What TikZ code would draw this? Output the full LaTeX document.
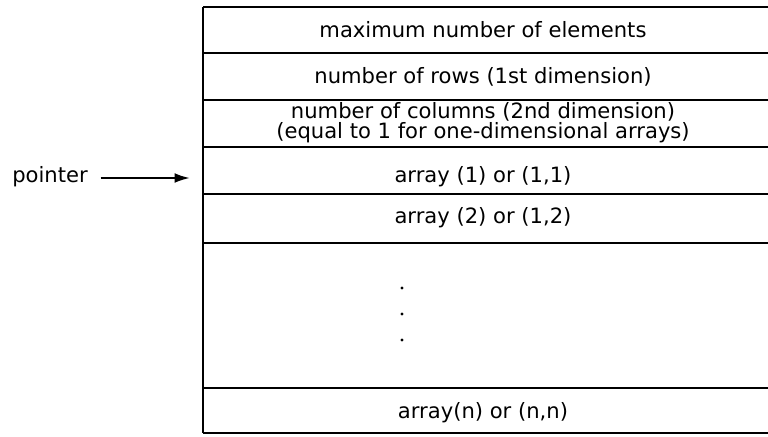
\documentclass[tikz,border=0pt]{standalone}
\usepackage{fontspec}
\setmainfont{DejaVu Sans}
\usetikzlibrary{arrows.meta,positioning}

\begin{document}
\begin{tikzpicture}[x=0.025cm,y=-0.025cm,
  row/.style={anchor=base,inner sep=0pt,font=\fontsize{15}{18}\selectfont},
  rule/.style={line width=1.6pt}]
\useasboundingbox (0,0) rectangle (768,436);
\pgfmathsetmacro\xl{203}
\pgfmathsetmacro\xm{483}

% frame
\foreach \y in {7,53,100,147,194,243,388,433}
  \draw[rule] (\xl,\y) -- (768,\y);
\draw[rule] (\xl,7) -- (\xl,433);

% header words
\node[row] (maxel) at (\xm,37) {maximum number of elements};
\node[row] (nrows) at (\xm,83) {number of rows (1st dimension)};
\node[row] (ncols) at (\xm,118) {number of columns (2nd dimension)};
\node[row] (ncolsb) at (\xm,138) {(equal to 1 for one-dimensional arrays)};

% elements
\node[row] (elA) at (\xm,182) {array (1) or (1,1)};
\node[row] (elB) at (\xm,223) {array (2) or (1,2)};
\node[row] (elN) at (\xm,418) {array(n) or (n,n)};
\foreach \y in {288,314,340}
  \fill (402,\y) circle (1.1pt);

% pointer
\node[row,anchor=base west] (ptr) at (12,182) {pointer};
\coordinate (tip) at (190,178);
\draw[line width=1.5pt,-{Latex[length=11pt,width=7pt]},shorten <=9pt] (ptr.east |- tip) -- (tip);

\end{tikzpicture}
\end{document}
